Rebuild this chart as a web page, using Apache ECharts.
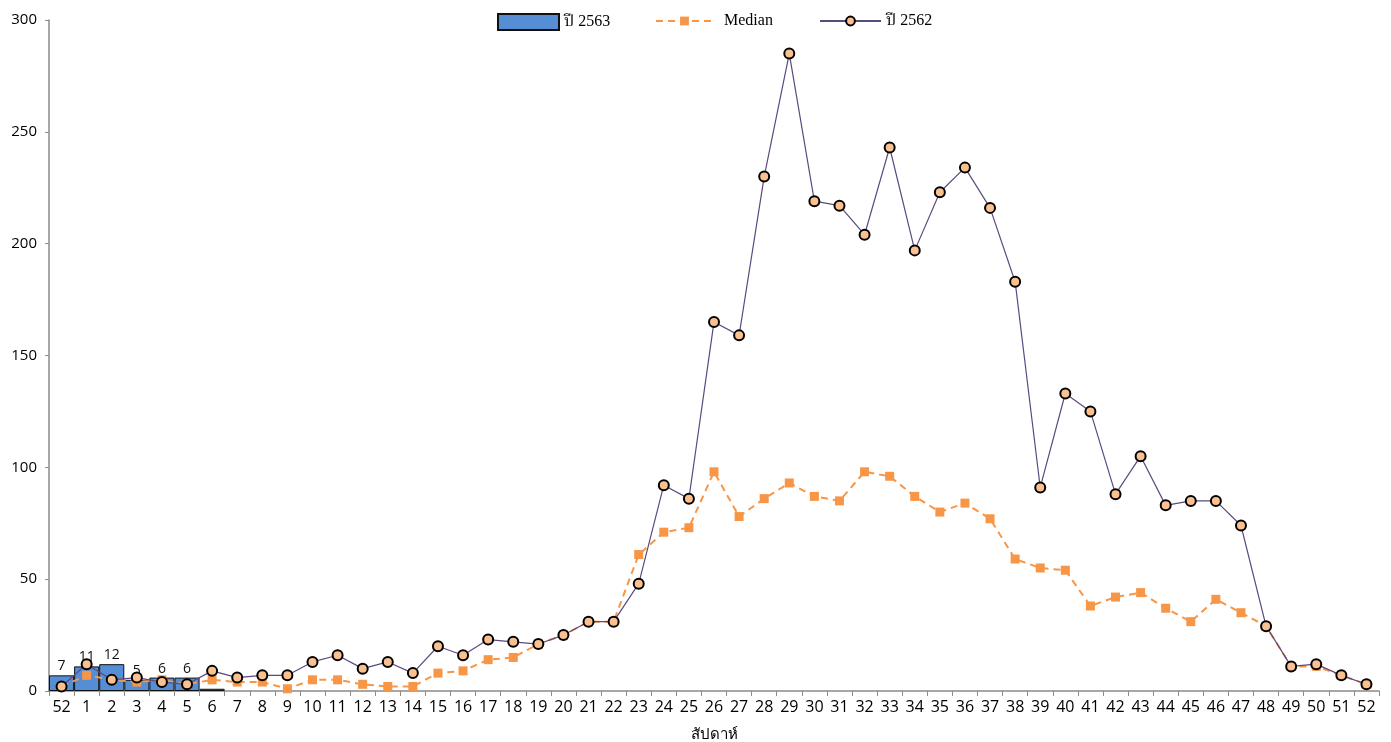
<!DOCTYPE html>
<html>
<head>
<meta charset="utf-8">
<script src="https://cdn.jsdelivr.net/npm/echarts@6/dist/echarts.min.js"></script>
<style>
html,body{margin:0;padding:0;background:#fff;}
#chart{width:1391px;height:742px;}
</style>
</head>
<body>
<div id="chart"></div>
<script>
const weeks = ['52','1','2','3','4','5','6','7','8','9','10','11','12','13','14','15','16','17','18','19','20','21','22','23','24','25','26','27','28','29','30','31','32','33','34','35','36','37','38','39','40','41','42','43','44','45','46','47','48','49','50','51','52'];
const cases2563 = [7,11,12,5,6,6,1];
const median = [2,7,5,4,5,3,5,4,4,1,5,5,3,2,2,8,9,14,15,21,25,31,31,61,71,73,98,78,86,93,87,85,98,96,87,80,84,77,59,55,54,38,42,44,37,31,41,35,29,11,11,7,3];
const cases2562 = [2,12,5,6,4,3,9,6,7,7,13,16,10,13,8,20,16,23,22,21,25,31,31,48,92,86,165,159,230,285,219,217,204,243,197,223,234,216,183,91,133,125,88,105,83,85,85,74,29,11,12,7,3];
const yTicks = {min:0, max:300, interval:50};

const chart = echarts.init(document.getElementById('chart'));
const serif = "'Liberation Serif','Noto Serif Thai','Noto Sans Thai','DejaVu Serif',serif";
const sans = "'Open Sans','Noto Sans','DejaVu Sans',sans-serif";
const legendText = {fontFamily:serif, fontSize:16, color:'#000', lineHeight:16};
chart.setOption({
  animation:false,
  backgroundColor:'#fff',
  legend:[
    {data:['ปี 2563'], left:497, top:13, padding:0, itemWidth:61, itemHeight:16, icon:'rect',
     textStyle:legendText},
    {data:['Median'], left:655, top:13, padding:0, itemWidth:57, itemHeight:11,
     textStyle:Object.assign({}, legendText, {padding:[0,0,0,6]})},
    {data:['ปี 2562'], left:819, top:13, padding:0, itemWidth:61, itemHeight:11,
     textStyle:legendText}
  ],
  grid:{left:49, right:12, top:20, bottom:51, containLabel:false, outerBoundsMode:'none'},
  xAxis:{
    type:'category', data:weeks, boundaryGap:true,
    axisLine:{lineStyle:{color:'#8a8a8a', width:1.5}},
    axisTick:{show:true, length:5, lineStyle:{color:'#8a8a8a'}},
    axisLabel:{interval:0, color:'#000', fontSize:16, fontFamily:sans, margin:8},
    name:'สัปดาห์', nameLocation:'middle', nameGap:36,
    nameTextStyle:{color:'#000', fontSize:15, fontFamily:sans}
  },
  yAxis:{
    type:'value', min:yTicks.min, max:yTicks.max, interval:yTicks.interval,
    splitLine:{show:false},
    axisLine:{show:true, lineStyle:{color:'#8a8a8a', width:1.5}},
    axisTick:{show:true, length:4, lineStyle:{color:'#8a8a8a'}},
    axisLabel:{color:'#000', fontSize:15, fontFamily:sans, margin:12}
  },
  series:[
    {name:'ปี 2563', type:'bar', data:cases2563, barCategoryGap:'0%',
     itemStyle:{color:'#558ED5', borderColor:'#111', borderWidth:1},
     label:{show:true, position:'top', distance:2, color:'#111', fontSize:14, fontFamily:sans},
     z:1},
    {name:'Median', type:'line', data:median, symbol:'rect', symbolSize:9,
     itemStyle:{color:'#F79646'},
     lineStyle:{color:'#F79646', width:2, type:[7,5]},
     z:2},
    {name:'ปี 2562', type:'line', data:cases2562, symbol:'circle', symbolSize:10,
     itemStyle:{color:'#FAC090', borderColor:'#000', borderWidth:2},
     lineStyle:{color:'#5B4A80', width:1.2},
     z:3}
  ]
});
</script>
</body>
</html>
